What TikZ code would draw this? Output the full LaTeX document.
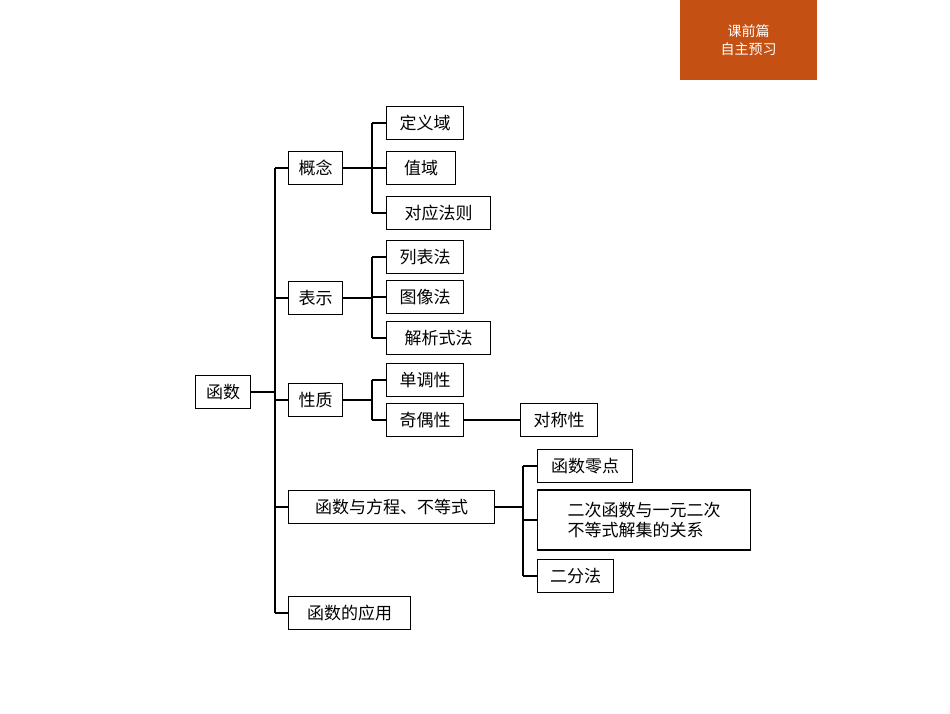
\documentclass[tikz,border=0pt]{standalone}
\usepackage{fontspec}
\newfontfamily\cjk{Noto Sans CJK SC}
\begin{document}
\begin{tikzpicture}[x=1pt,y=-1pt,
 bx/.style={draw,line width=1.3pt,anchor=west,minimum height=33pt,inner sep=3pt,font=\cjk\fontsize{17}{20}\selectfont,align=left},
 ln/.style={line width=1.1pt}]
\useasboundingbox (0,0) rectangle (950,713);
\fill[fill={rgb,255:red,196;green,80;blue,20}] (680,0) rectangle (817,80);
\node[text=white,font=\cjk\fontsize{14}{18}\selectfont,align=center] (tag) at (748.5,40) {课前篇\\自主预习};
\node[bx,minimum width=55pt] (f) at (195,392) {函数};
\node[bx,minimum width=54pt] (a) at (288,168) {概念};
\node[bx,minimum width=54pt] (b) at (288,298) {表示};
\node[bx,minimum width=54pt] (c) at (288,400) {性质};
\node[bx,minimum width=206pt] (d) at (288,507) {函数与方程、不等式};
\node[bx,minimum width=122pt] (e) at (288,613) {函数的应用};
\node[bx,minimum width=77pt] (a1) at (386,123) {定义域};
\node[bx,minimum width=69pt] (a2) at (386,168) {值域};
\node[bx,minimum width=104pt] (a3) at (386,213) {对应法则};
\node[bx,minimum width=77pt] (b1) at (386,257) {列表法};
\node[bx,minimum width=77pt] (b2) at (386,297) {图像法};
\node[bx,minimum width=104pt] (b3) at (386,338) {解析式法};
\node[bx,minimum width=77pt] (c1) at (386,380) {单调性};
\node[bx,minimum width=77pt] (c2) at (386,420) {奇偶性};
\node[bx,minimum width=77pt] (c3) at (520,420) {对称性};
\node[bx,minimum width=95pt] (d1) at (537,466) {函数零点};
\node[bx,minimum width=213pt,minimum height=60pt,inner sep=4pt] (d2) at (537,520) {二次函数与一元二次\\不等式解集的关系};
\node[bx,minimum width=76pt] (d3) at (537,576) {二分法};
% trunk
\coordinate (t1) at (275,168); \coordinate (t2) at (275,613);
\draw[ln] (t1) -- (t2);
\draw[ln] (f.east) -- (f.east -| t1);
\foreach \n in {a,b,c,d,e} \draw[ln] (\n.west -| t1) -- (\n.west);
\foreach \p/\q/\r/\s in {a/a1/a3/372,b/b1/b3/372,c/c1/c2/372,d/d1/d3/523}{
 \coordinate (s\p) at (\s,0);
 \draw[ln] (\p.east) -- (\p.east -| s\p);
 \draw[ln] (\q.west -| s\p) -- (\r.west -| s\p);
}
\foreach \p/\n in {a/a1,a/a2,a/a3,b/b1,b/b2,b/b3,c/c1,c/c2,d/d1,d/d2,d/d3}
 \draw[ln] (\n.west -| s\p) -- (\n.west);
\draw[ln] (c2.east) -- (c3.west);
\end{tikzpicture}
\end{document}
